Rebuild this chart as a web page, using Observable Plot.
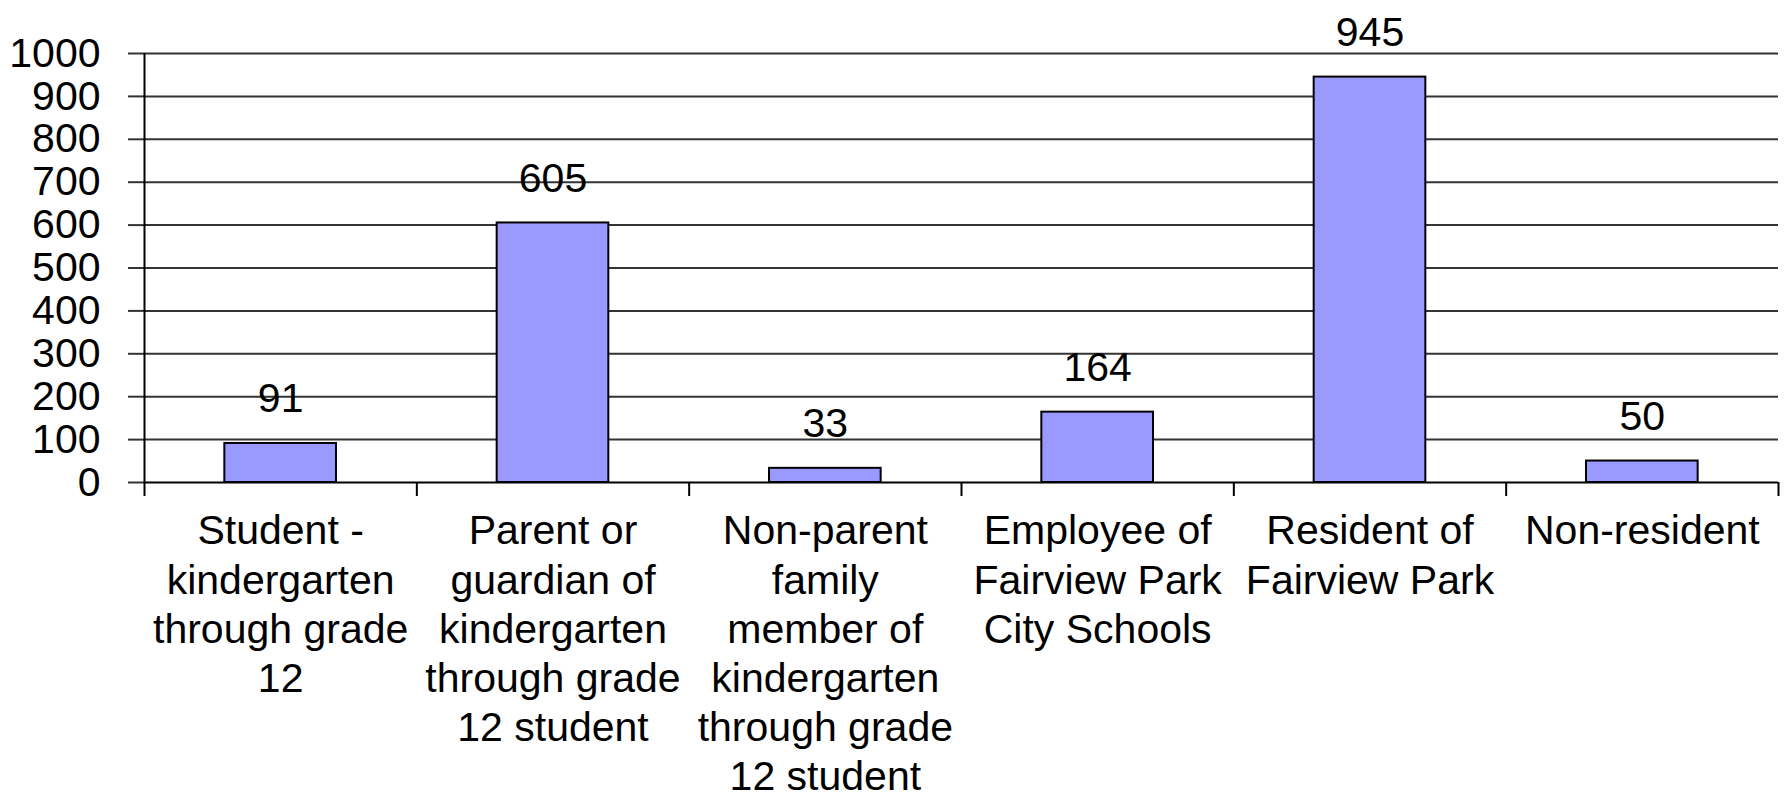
<!DOCTYPE html>
<html>
<head>
<meta charset="utf-8">
<script src="https://cdn.jsdelivr.net/npm/d3@7"></script>
<script src="https://cdn.jsdelivr.net/npm/@observablehq/plot@0.6"></script>
<style>
  html, body { margin: 0; padding: 0; background: #fff; }
  #chart svg { display: block; }
</style>
</head>
<body>
<div id="chart"></div>
<script>
// ---- data ----
const categories = [
  "Student -\nkindergarten\nthrough grade\n12",
  "Parent or\nguardian of\nkindergarten\nthrough grade\n12 student",
  "Non-parent\nfamily\nmember of\nkindergarten\nthrough grade\n12 student",
  "Employee of\nFairview Park\nCity Schools",
  "Resident of\nFairview Park",
  "Non-resident"
];
const values = [91, 605, 33, 164, 945, 50];
const yTicks = [0, 100, 200, 300, 400, 500, 600, 700, 800, 900, 1000];

// ---- build ----
const data = categories.map((c, i) => ({ i, label: c, value: values[i] }));
const halfBar = 0.205; // half bar width as fraction of category slot
const font = "'Liberation Sans', Arial, sans-serif";

const chart = Plot.plot({
  width: 1789,
  height: 798,
  marginLeft: 144,
  marginRight: 11,
  marginTop: 53,
  marginBottom: 316,
  style: { fontFamily: font, fontSize: "41px", color: "#000", background: "#fff" },
  x: { type: "linear", domain: [0, categories.length], axis: null },
  y: { domain: [0, 1000], axis: null },
  marks: [
    // horizontal gridlines
    Plot.ruleY(yTicks.filter(t => t > 0), { stroke: "#333", strokeWidth: 2 }),
    // bars
    Plot.rectY(data, {
      x1: d => d.i + 0.5 - halfBar,
      x2: d => d.i + 0.5 + halfBar,
      y1: 0,
      y2: "value",
      fill: "#9999FF",
      stroke: "#000",
      strokeWidth: 2
    }),
    // value labels
    Plot.text(data, {
      x: d => d.i + 0.5,
      y: "value",
      text: d => String(d.value),
      lineAnchor: "bottom",
      dy: -31,
      fontSize: 41,
      fill: "#000"
    }),
    // y axis ticks + labels
    Plot.axisY({
      ticks: yTicks,
      tickSize: 16,
      tickPadding: 28,
      tickFormat: d => String(d),
      stroke: "#333",
      strokeWidth: 2,
      fontSize: 41,
      fill: "#000",
      label: null
    }),
    // x axis ticks at category boundaries
    Plot.axisX({
      ticks: d3.range(categories.length + 1),
      tickSize: 14,
      tickFormat: () => "",
      stroke: "#000",
      strokeWidth: 2,
      label: null
    }),
    // category labels
    Plot.text(data, {
      x: d => d.i + 0.5,
      y: 0,
      text: "label",
      lineAnchor: "top",
      lineHeight: 1.2,
      dy: 27,
      fontSize: 41,
      fill: "#000",
      textAnchor: "middle"
    }),
    // axis lines
    Plot.ruleY([0], { stroke: "#000", strokeWidth: 2 }),
    Plot.ruleX([0], { y1: 0, y2: 1000, stroke: "#000", strokeWidth: 2 })
  ]
});
document.getElementById("chart").appendChild(chart);
</script>
</body>
</html>
